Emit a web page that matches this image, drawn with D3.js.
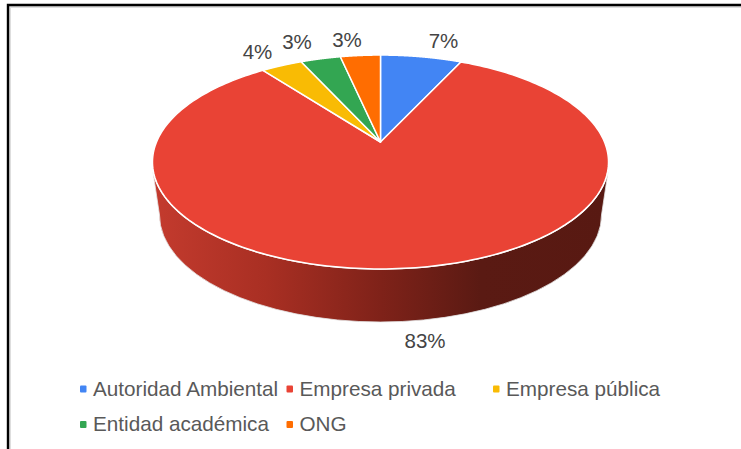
<!DOCTYPE html>
<html><head><meta charset="utf-8">
<script src="https://cdn.jsdelivr.net/npm/d3@7/dist/d3.min.js"></script>
<style>html,body{margin:0;padding:0;background:#fff}svg{display:block}text{font-family:"Liberation Sans",Arial,sans-serif}</style>
</head><body>
<svg id="c" width="741" height="449"></svg>
<script>
// Data (share in percent, in chart order)
const categories = ["Autoridad Ambiental","Empresa privada","Empresa pública","Entidad académica","ONG"];
const shares = [6.9, 82.8, 3.5, 3.4, 3.4];
const colors = ["#4285f4","#e94335","#f9bb04","#33a652","#ff6d01"];

const svg = d3.select("#c");
const W = 741, H = 449;

// frame
svg.append("path").attr("d",`M10,${H}V7H${W}`).attr("fill","none").attr("stroke","#dedede").attr("stroke-width",2);
svg.append("path").attr("d",`M8,${H}V5H${W}`).attr("fill","none").attr("stroke","#000").attr("stroke-width",2.4);

// Perspective disc: apex (projected centre) sits above the ellipse centre
const cx = 380.5, apexY = 142, A = 224, B = 103.2, P = 0.187;
const project = t => {
  const X = Math.sin(t), Y = Math.cos(t), d = 1 + P * Y;
  return [cx + A * X / d, apexY - B * Y / d];
};
const ell = {cx: 380.5, cy: 162, rx: 228, ry: 107};
const low = {cx: 380.5, cy: 215, rx: 221, ry: 107};

const defs = svg.append("defs");
const grad = defs.append("linearGradient").attr("id","side").attr("gradientUnits","userSpaceOnUse")
  .attr("x1",152).attr("x2",609).attr("y1",0).attr("y2",0);
const sideStops = [[0,"#c43b2e"],[0.25,"#a92f23"],[0.5,"#7f2219"],[0.72,"#5a1a13"],[1,"#581912"]];
grad.selectAll("stop").data(sideStops).join("stop")
  .attr("offset",d=>d[0]).attr("stop-color",d=>d[1]);

// side wall
svg.append("path")
  .attr("d",`M${ell.cx-ell.rx+0.5},${ell.cy+10}
             L${low.cx-low.rx},${low.cy}
             A${low.rx},${low.ry} 0 0 0 ${low.cx+low.rx},${low.cy}
             L${ell.cx+ell.rx-0.5},${ell.cy+10}Z`)
  .attr("fill","url(#side)").attr("stroke","#e4e4e4").attr("stroke-width",0.8);

// disc rim
svg.append("ellipse").attr("cx",ell.cx).attr("cy",ell.cy).attr("rx",ell.rx).attr("ry",ell.ry)
  .attr("fill","#e94335").attr("stroke","#fff").attr("stroke-width",1.6);

// slices, through d3.pie
const pie = d3.pie().sort(null).value(d=>d);
const arcs = pie(shares);
const slicePath = a => {
  const n = 240, pts = [[cx,apexY]];
  const steps = d3.range(n+1).map(i => a.startAngle + (a.endAngle-a.startAngle)*i/n);
  steps.forEach(t => pts.push(project(t)));
  return d3.line()(pts) + "Z";
};
svg.append("g").selectAll("path").data(arcs).join("path")
  .attr("d",slicePath)
  .attr("fill",(d,i)=>colors[i])
  .attr("stroke","#fff").attr("stroke-width",1.5).attr("stroke-linejoin","round");

// percentage labels
const fmt = d3.format(".0f");
const labelPos = [[443.5,47.5],[425,348],[257.5,59],[297,49],[347,46.5]];
svg.append("g").selectAll("text").data(shares).join("text")
  .attr("x",(d,i)=>labelPos[i][0]).attr("y",(d,i)=>labelPos[i][1])
  .attr("text-anchor","middle").attr("font-size",20.5).attr("fill","#444")
  .text(d=>fmt(d)+"%");

// legend
const legendPos = [[78,395.5],[284.5,395.5],[491,395.5],[78,431],[284.5,431]];
const lg = svg.append("g").selectAll("g").data(categories).join("g")
  .attr("transform",(d,i)=>`translate(${legendPos[i][0]},${legendPos[i][1]})`);
lg.append("rect").attr("x",2).attr("y",-10).attr("width",6.5).attr("height",7).attr("rx",1)
  .attr("fill",(d,i)=>colors[i]);
lg.append("text").attr("x",15).attr("font-size",20.7).attr("fill","#595959").text(d=>d);
</script>
</body></html>
